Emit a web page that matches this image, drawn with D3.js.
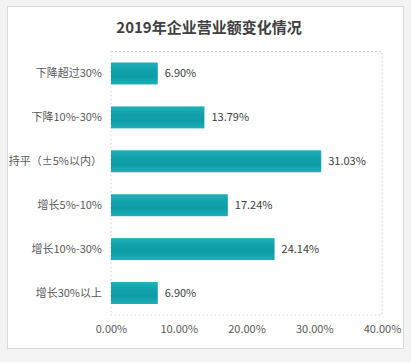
<!DOCTYPE html>
<html><head><meta charset="utf-8">
<script src="https://cdn.jsdelivr.net/npm/d3@7/dist/d3.min.js"></script>
<style>
html,body{margin:0;padding:0;background:#f3f3f3;}
svg{display:block;}
</style></head>
<body>
<script>
const categories = ["下降超过30%", "下降10%-30%", "持平（±5%以内）", "增长5%-10%", "增长10%-30%", "增长30%以上"];
const values = [6.90, 13.79, 31.03, 17.24, 24.14, 6.90];
const tickValues = [0, 10, 20, 30, 40];
const title = "2019年企业营业额变化情况";

(function () {
const W = 411, H = 362;
const svg = d3.select("body").append("svg").attr("width", W).attr("height", H);
const font = "'Microsoft YaHei','Noto Sans CJK SC','Noto Sans',sans-serif";

const defs = svg.append("defs");
const grad = defs.append("linearGradient").attr("id", "barGrad").attr("x1", 0).attr("x2", 0).attr("y1", 0).attr("y2", 1);
grad.append("stop").attr("offset", "0%").attr("stop-color", "#1eb0b9");
grad.append("stop").attr("offset", "35%").attr("stop-color", "#12a1ab");
grad.append("stop").attr("offset", "65%").attr("stop-color", "#0f9ca7");
grad.append("stop").attr("offset", "100%").attr("stop-color", "#1cb0b9");

svg.append("rect").attr("x", 7.5).attr("y", 6.5).attr("width", 396).attr("height", 342)
  .attr("fill", "#fff").attr("stroke", "#d9d9d9").attr("stroke-width", 1);

svg.append("text").attr("x", 209).attr("y", 32.5).attr("text-anchor", "middle")
  .attr("font-family", font).attr("font-size", 15).attr("font-weight", "bold")
  .attr("fill", "#404040").text(title);

const pLeft = 111, pRight = 382, pTop = 51.5, pBottom = 315;
const x = d3.scaleLinear().domain([0, 40]).range([pLeft, pRight]);
const y = d3.scaleBand().domain(categories).range([pTop, pBottom]).paddingInner(0.5).paddingOuter(0.25);

svg.append("rect").attr("x", pLeft).attr("y", pTop).attr("width", pRight - pLeft).attr("height", pBottom - pTop)
  .attr("fill", "none").attr("stroke", "#d9d9d9").attr("stroke-dasharray", "2,2");

svg.append("g").selectAll("rect").data(values).join("rect")
  .attr("x", x(0)).attr("y", (d, i) => y(categories[i]))
  .attr("width", d => x(d) - x(0)).attr("height", y.bandwidth())
  .attr("fill", "url(#barGrad)");

svg.append("g").selectAll("text").data(values).join("text")
  .attr("x", d => x(d) + 7).attr("y", (d, i) => y(categories[i]) + y.bandwidth() / 2)
  .attr("dy", "0.35em").attr("font-family", font).attr("font-size", 11)
  .attr("fill", "#404040").text(d => d.toFixed(2) + "%");

const yAxis = d3.axisLeft(y).tickSize(0).tickPadding(9);
const gy = svg.append("g").attr("transform", `translate(${pLeft},0)`).call(yAxis);
gy.select(".domain").remove();
gy.selectAll("text").attr("font-family", font).attr("font-size", 11).attr("fill", "#595959");

const xAxis = d3.axisBottom(x).tickValues(tickValues).tickSize(0).tickPadding(10).tickFormat(d => d.toFixed(2) + "%");
const gx = svg.append("g").attr("transform", `translate(0,${pBottom})`).call(xAxis);
gx.select(".domain").remove();
gx.selectAll("text").attr("font-family", font).attr("font-size", 11).attr("fill", "#595959");
})();
</script>
</body></html>
